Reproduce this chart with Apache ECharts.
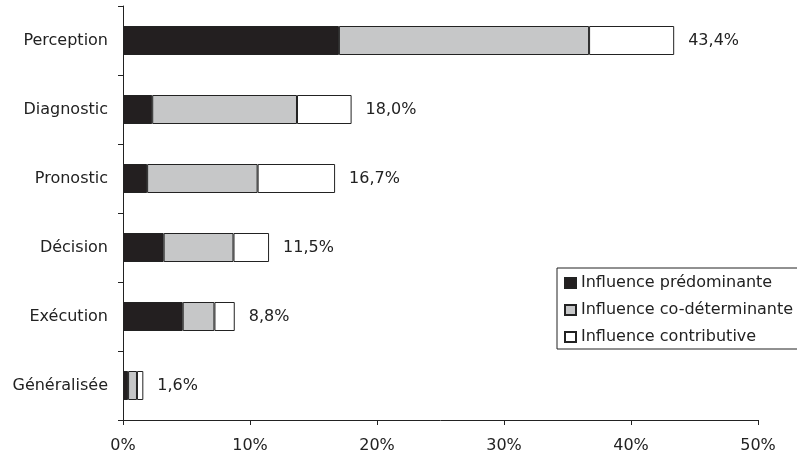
<!DOCTYPE html>
<html>
<head>
<meta charset="utf-8">
<script src="https://cdn.jsdelivr.net/npm/echarts@6/dist/echarts.min.js"></script>
<style>
  html, body { margin: 0; padding: 0; background: #fff; }
  #chart { width: 797px; height: 454px; }
</style>
</head>
<body>
<div id="chart"></div>
<script>
// Stades du processus et part de chaque niveau d'influence (%)
const categories = ['Perception', 'Diagnostic', 'Pronostic', 'Décision', 'Exécution', 'Généralisée'];
const predominante = [17.0, 2.3, 1.9, 3.2, 4.7, 0.4];
const coDeterminante = [19.7, 11.4, 8.7, 5.5, 2.5, 0.7];
const contributive = [6.7, 4.3, 6.1, 2.8, 1.6, 0.5];
const totals = [43.4, 18.0, 16.7, 11.5, 8.8, 1.6];
const xTicks = [0, 10, 20, 30, 40, 50];

const FONT = '"DejaVu Sans", sans-serif';
const TEXT = '#222';
const fmt = v => v.toFixed(1).replace('.', ',') + '%';

const segStyle = color => ({ color: color, borderColor: '#222', borderWidth: 1 });

const chart = echarts.init(document.getElementById('chart'), null, { renderer: 'canvas' });
chart.setOption({
  animation: false,
  backgroundColor: '#fff',
  textStyle: { fontFamily: FONT },
  grid: { left: 123, right: 39, top: 6, bottom: 34, containLabel: false },
  legend: {
    orient: 'vertical',
    left: 557,
    top: 268,
    padding: [7, 8, 4, 7],
    borderColor: '#222',
    borderWidth: 1,
    backgroundColor: '#fff',
    itemWidth: 11,
    itemHeight: 10,
    itemGap: 11,
    icon: 'rect',
    textStyle: { fontFamily: FONT, fontSize: 16, color: TEXT },
    data: ['Influence prédominante', 'Influence co-déterminante', 'Influence contributive']
  },
  xAxis: {
    type: 'value',
    min: xTicks[0],
    max: xTicks[xTicks.length - 1],
    interval: 10,
    splitLine: { show: false },
    axisLine: { show: true, lineStyle: { color: '#222', width: 1 } },
    axisTick: { show: true, length: 5, lineStyle: { color: '#222' } },
    axisLabel: { fontFamily: FONT, fontSize: 16, color: TEXT, margin: 18, formatter: v => v + '%' }
  },
  yAxis: {
    type: 'category',
    inverse: true,
    data: categories,
    axisLine: { show: true, lineStyle: { color: '#222', width: 1 } },
    axisTick: { show: true, length: 5, alignWithLabel: false, lineStyle: { color: '#222' } },
    axisLabel: { fontFamily: FONT, fontSize: 16, color: TEXT, margin: 15 }
  },
  series: [
    {
      name: 'Influence prédominante', type: 'bar', stack: 'total', barWidth: 29,
      itemStyle: segStyle('#231f20'), data: predominante
    },
    {
      name: 'Influence co-déterminante', type: 'bar', stack: 'total', barWidth: 29,
      itemStyle: segStyle('#c6c7c8'), data: coDeterminante
    },
    {
      name: 'Influence contributive', type: 'bar', stack: 'total', barWidth: 29,
      itemStyle: segStyle('#ffffff'), data: contributive,
      label: {
        show: true, position: 'right', distance: 14,
        fontFamily: FONT, fontSize: 16, color: TEXT,
        formatter: p => fmt(totals[p.dataIndex])
      }
    }
  ]
});
</script>
</body>
</html>
